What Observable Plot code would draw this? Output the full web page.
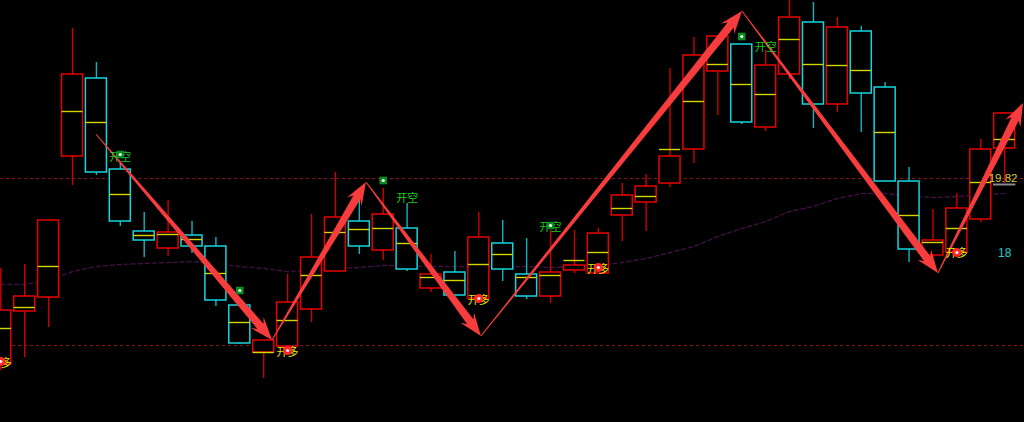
<!DOCTYPE html>
<html>
<head>
<meta charset="utf-8">
<script src="https://cdn.jsdelivr.net/npm/d3@7"></script>
<script src="https://cdn.jsdelivr.net/npm/@observablehq/plot@0.6"></script>
<style>
  html, body { margin: 0; padding: 0; background: #000; overflow: hidden; }
  #chart svg { display: block; }
</style>
</head>
<body>
<div id="chart"></div>
<script>
// ---- Data ----
const dir    = ["up","up","up","up","down","down","down","up","down","down","down","up","up","up","up","down","up","down","up","down","up","down","down","up","up","up","up","up","up","up","up","down","up","up","down","up","down","down","down","up","up","up","up"];
const opens  = [17.96,18.49,18.63,20.04,20.82,19.91,19.29,19.12,19.25,19.14,18.55,18.08,18.14,18.51,18.89,19.39,19.10,19.32,18.72,18.88,18.62,19.17,18.86,18.64,18.90,18.87,19.45,19.58,19.77,20.11,20.89,21.16,20.33,20.86,21.38,20.56,21.29,20.73,19.79,19.05,19.08,19.41,20.12];
const closes = [18.50,18.64,19.40,20.86,19.88,19.39,19.20,19.28,19.14,18.60,18.17,18.20,18.58,19.03,19.43,19.14,19.46,18.91,18.86,18.65,19.23,18.91,18.64,18.88,18.95,19.27,19.65,19.74,20.04,21.05,21.24,20.38,20.95,21.43,20.56,21.33,20.67,19.79,19.11,19.20,19.52,20.11,20.47];
const highs  = [18.92,18.96,19.40,21.32,20.98,19.97,19.48,19.60,19.39,19.23,18.55,18.20,18.86,19.46,19.88,19.60,19.72,19.57,19.06,19.09,19.48,19.40,19.22,19.30,19.30,19.32,19.77,19.86,20.92,21.23,21.24,21.16,21.10,21.60,21.58,21.43,21.34,20.78,19.93,19.51,19.67,20.21,20.48];
const lows   = [17.90,18.03,18.33,19.75,19.85,19.34,19.03,19.04,19.07,18.54,18.16,17.82,18.14,18.38,18.89,19.06,19.00,18.89,18.68,18.65,18.62,18.79,18.61,18.57,18.87,18.87,19.19,19.29,19.73,19.97,20.45,20.36,20.29,20.81,20.32,20.48,20.28,19.79,18.98,19.02,19.08,19.38,19.77];
const mids   = [18.32,18.53,18.94,20.49,20.38,19.66,19.25,19.26,19.21,18.87,18.38,18.08,18.40,18.85,19.28,19.31,19.32,19.17,18.83,18.80,18.96,19.06,18.83,18.85,19.00,19.08,19.52,19.64,20.11,20.59,20.96,20.76,20.66,21.21,20.96,20.95,20.90,20.28,19.45,19.18,19.32,19.78,20.21];
const maLine = [18.76,18.76,18.80,18.89,18.94,18.96,18.97,18.98,18.99,18.97,18.94,18.92,18.89,18.90,18.92,18.93,18.95,18.95,18.94,18.94,18.94,18.94,18.94,18.93,18.94,18.95,18.98,19.02,19.08,19.14,19.24,19.32,19.39,19.49,19.54,19.62,19.67,19.67,19.64,19.63,19.64,19.66,19.67];

// zigzag pivots (bar index, price)
const pivotIdx   = [4.0, 11.37, 15.30, 20.11, 31.03, 39.23, 42.79];
const pivotPrice = [20.26, 18.20, 19.78, 18.24, 21.49, 18.87, 20.57];

// signals
const shortIconIdx   = [5, 10, 16, 23, 31];
const shortIconPrice = [20.06, 18.70, 19.80, 19.35, 21.24];
const shortTextIdx   = [5, 17, 23, 32];
const shortTextPrice = [20.03, 19.62, 19.33, 21.13];
const longIdx        = [0, 12, 20, 25, 40];
const longTextPrice  = [17.97, 18.08, 18.60, 18.91, 19.07];
const longIconPrice  = [17.99, 18.10, 18.62, 18.93, 19.08];
const shortLabel = "开空";
const longLabel  = "开多";

const refLevels = [19.82, 18.15];
const lastPrice = 19.82;
const countLabel = "18";
const countPrice = 19.07;

// ---- Build tables ----
const bars = dir.map((d, i) => ({i, dir: d, open: opens[i], close: closes[i], high: highs[i], low: lows[i], mid: mids[i]}));
const ma = maLine.map((v, i) => ({i, v}));
const pivots = pivotIdx.map((x, k) => ({x, y: pivotPrice[k]}));
const segs = d3.pairs(pivots).map(([a, b]) => ({x1: a.x, y1: a.y, x2: b.x, y2: b.y}));
const shortIcons = shortIconIdx.map((x, k) => ({x, y: shortIconPrice[k]}));
const shortTexts = shortTextIdx.map((x, k) => ({x, y: shortTextPrice[k]}));
const longTexts = longIdx.map((x, k) => ({x, y: longTextPrice[k]}));
const longIcons = longIdx.map((x, k) => ({x, y: longIconPrice[k]}));
const lastIdx = bars.length - 1;

const RED = "#e80000", RED_W = "#cc0000", CYAN = "#14d6de", CYAN_W = "#0fb4c0";
const HALF = 0.44;

function taperedArrows(index, scales, values, dimensions, context) {
  const ns = "http://www.w3.org/2000/svg";
  const doc = context.document;
  const g = doc.createElementNS(ns, "g");
  for (const k of index) {
    const x1 = values.x1[k], y1 = values.y1[k], x2 = values.x2[k], y2 = values.y2[k];
    const dx = x2 - x1, dy = y2 - y1, len = Math.hypot(dx, dy);
    const ux = dx / len, uy = dy / len, nx = -uy, ny = ux;
    const L = 23, hw = 8.5, w0 = 0.5, w1 = 4.0;
    const bx = x2 - ux * L * 0.78, by = y2 - uy * L * 0.78;
    const hx = x2 - ux * L, hy = y2 - uy * L;
    const pts = [
      [x1 + nx * w0, y1 + ny * w0],
      [bx + nx * w1, by + ny * w1],
      [hx + nx * hw, hy + ny * hw],
      [x2, y2],
      [hx - nx * hw, hy - ny * hw],
      [bx - nx * w1, by - ny * w1],
      [x1 - nx * w0, y1 - ny * w0]
    ];
    const p = doc.createElementNS(ns, "path");
    p.setAttribute("d", "M" + pts.map(q => q[0].toFixed(2) + "," + q[1].toFixed(2)).join("L") + "Z");
    p.setAttribute("fill", "#f63c3c");
    g.appendChild(p);
  }
  return g;
}

const chart = Plot.plot({
  width: 1024,
  height: 422,
  margin: 0,
  style: {background: "#000", overflow: "visible"},
  x: {type: "linear", domain: [-0.0126, 42.83], axis: null},
  y: {domain: [17.38, 21.60], axis: null},
  marks: [
    Plot.ruleY(refLevels, {stroke: "#8e1010", strokeWidth: 1.2, strokeDasharray: "3,3"}),
    Plot.line(ma, {x: "i", y: "v", stroke: "#3e0f40", strokeWidth: 1.4, strokeDasharray: "4,3"}),
    Plot.ruleX(bars, {x: "i", y1: "low", y2: "high", stroke: d => d.dir === "up" ? RED_W : CYAN_W, strokeWidth: 1.4}),
    Plot.rect(bars, {
      x1: d => d.i - HALF, x2: d => d.i + HALF,
      y1: d => Math.min(d.open, d.close), y2: d => Math.max(d.open, d.close),
      fill: "#000", stroke: d => d.dir === "up" ? RED : CYAN, strokeWidth: 1.5
    }),
    Plot.ruleY(bars, {y: "mid", x1: d => d.i - HALF, x2: d => d.i + HALF, stroke: "#d6d600", strokeWidth: 1.4}),
    Plot.link(segs, {x1: "x1", y1: "y1", x2: "x2", y2: "y2", stroke: "#f63c3c", strokeWidth: 3, render: taperedArrows}),
    Plot.text(shortTexts, {x: "x", y: "y", text: () => shortLabel, fill: "#1ec81e", fontSize: 11, fontFamily: "Noto Sans CJK SC"}),
    Plot.text(longTexts, {x: "x", y: "y", text: () => longLabel, fill: "#e6e600", fontSize: 11, fontFamily: "Noto Sans CJK SC"}),
    Plot.dot(shortIcons, {x: "x", y: "y", symbol: "square", r: 4.3, fill: "#0d8a24"}),
    Plot.dot(shortIcons, {x: "x", y: "y", r: 1.6, fill: "#e8ffe8"}),
    Plot.dot(longIcons, {x: "x", y: "y", r: 4.6, fill: "#ff2626"}),
    Plot.dot(longIcons, {x: "x", y: "y", r: 1.6, fill: "#ffe8e8"}),
    Plot.text([lastPrice], {y: d => d, frameAnchor: "right", textAnchor: "end", dx: -7, text: d => d.toFixed(2), fill: "#cccc44", fontSize: 11.5, fontFamily: "Liberation Sans"}),
    Plot.ruleY([lastPrice], {y: d => d, x1: lastIdx - 0.47, x2: lastIdx + 0.47, dy: 6, stroke: "#8a8a8a", strokeWidth: 2}),
    Plot.text([countLabel], {x: lastIdx, y: countPrice, text: d => d, fill: "#22c8cc", fontSize: 12, fontFamily: "Liberation Sans"})
  ]
});
document.getElementById("chart").appendChild(chart);
</script>
</body>
</html>
